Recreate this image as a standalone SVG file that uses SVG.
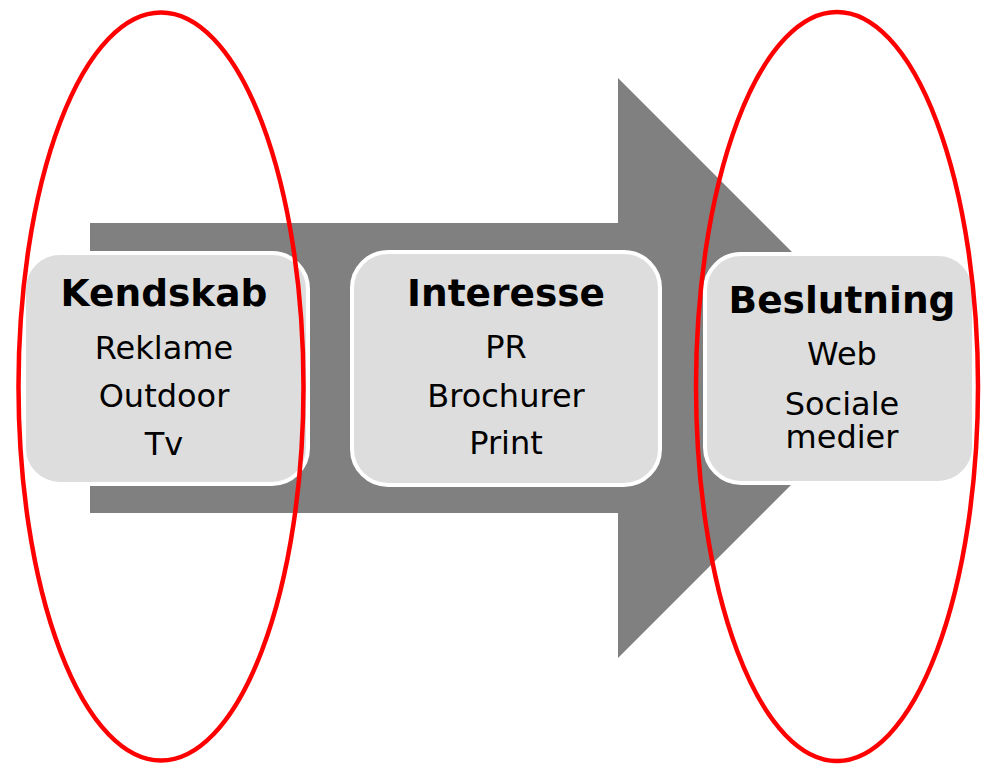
<svg xmlns="http://www.w3.org/2000/svg" width="990" height="765" viewBox="0 0 990 765">
<style>
.box{fill:#dddddd;stroke:#ffffff;stroke-width:4}
.t{font-family:"DejaVu Sans",Verdana,sans-serif;font-weight:bold;font-size:37.5px;fill:#000;text-anchor:middle}
.b{font-family:"DejaVu Sans",Verdana,sans-serif;font-size:32px;fill:#000;text-anchor:middle}
.ring{fill:none;stroke:#ff0000;stroke-width:4.5}
</style>
<rect width="990" height="765" fill="#ffffff"/>
<g id="arrow">
<polygon points="90,223 618,223 618,78 908,368 618,658 618,513 90,513" fill="#808080"/>
</g>
<g id="kendskab">
<rect class="box" x="24" y="253" width="284" height="231" rx="36"/>
<text class="t" x="164" y="306">Kendskab</text>
<text class="b" x="164" y="359">Reklame</text>
<text class="b" x="164" y="407">Outdoor</text>
<text class="b" x="164" y="455">Tv</text>
</g>
<g id="interesse">
<rect class="box" x="352" y="252" width="308" height="233" rx="36"/>
<text class="t" x="506" y="306">Interesse</text>
<text class="b" x="506" y="358">PR</text>
<text class="b" x="506" y="407">Brochurer</text>
<text class="b" x="506" y="454">Print</text>
</g>
<g id="beslutning">
<rect class="box" x="705" y="254" width="269" height="229" rx="36"/>
<text class="t" x="842" y="313">Beslutning</text>
<text class="b" x="842" y="365">Web</text>
<text class="b" x="842" y="415">Sociale</text>
<text class="b" x="842" y="448">medier</text>
</g>
<g id="connectors">
<ellipse class="ring" cx="161" cy="386.5" rx="142.5" ry="374"/>
<ellipse class="ring" cx="837" cy="386.5" rx="141" ry="374.5"/>
</g>
</svg>
